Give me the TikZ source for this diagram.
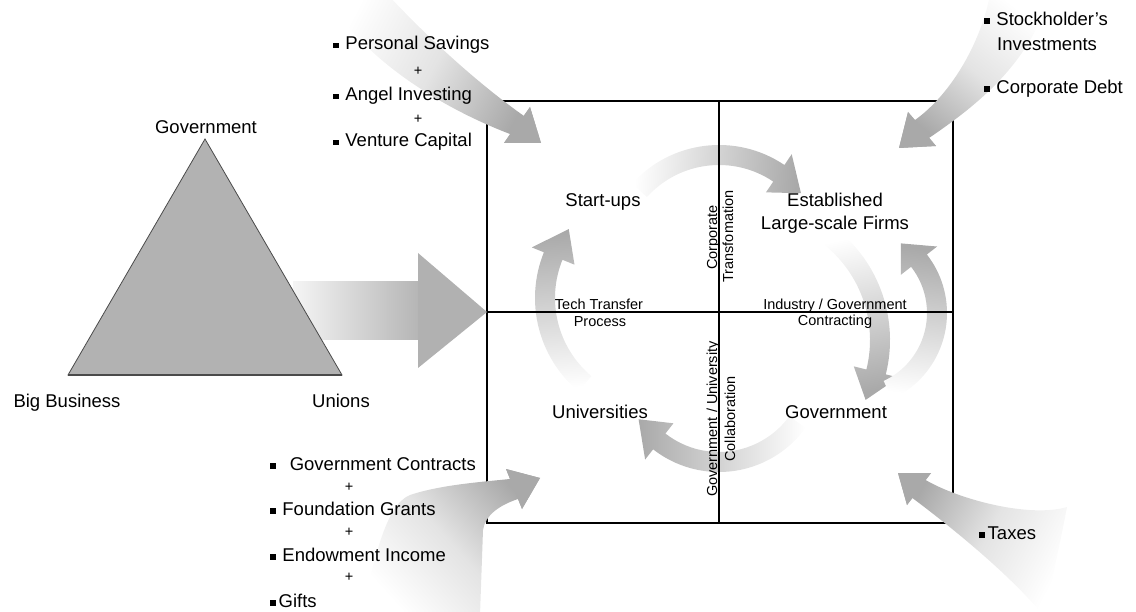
\documentclass[tikz,border=0pt]{standalone}
\usepackage{fontspec}
\setmainfont{Liberation Sans}
\definecolor{arrowgray}{HTML}{A9A9A9}
\definecolor{trigray}{HTML}{B2B2B2}
\definecolor{edgegray}{HTML}{4A4A4A}
\newcommand\bul{\rule[0.09em]{0.31em}{0.31em}}
% circular flow arrow: centre x, centre y, radius, tail angle, head base angle, tip angle, shading angle
\newcommand\cyclearrow[7]{%
  \pgfmathsetmacro\arcRo{#3+10}%
  \pgfmathsetmacro\arcRi{#3-10}%
  \pgfmathsetmacro\arcHo{#3+23}%
  \pgfmathsetmacro\arcHi{#3-23}%
  \shade[top color=arrowgray, bottom color=white, middle color=arrowgray!50, shading angle=#7]
    ([shift={(#4:\arcRo)}]#1,#2) arc[start angle=#4, end angle=#5, radius=\arcRo]
    -- ([shift={(#5:\arcHo)}]#1,#2)
    -- ([shift={(#6:#3)}]#1,#2)
    -- ([shift={(#5:\arcHi)}]#1,#2)
    -- ([shift={(#5:\arcRi)}]#1,#2)
    arc[start angle=#5, end angle=#4, radius=\arcRi] -- cycle;}
\begin{document}
\begin{tikzpicture}[x=1pt,y=-1pt,
  lbl/.style={font=\fontsize{18.5}{22}\selectfont, inner sep=0pt, anchor=base},
  lblw/.style={lbl, anchor=base west},
  smalllbl/.style={font=\fontsize{14.5}{17}\selectfont, inner sep=0pt, anchor=base},
  pluslbl/.style={font=\fontsize{14.5}{17}\selectfont, inner sep=0pt},
  boxline/.style={line width=1.1pt, black},
  swoosh/.style={top color=arrowgray, bottom color=white, middle color=arrowgray!32}]
\useasboundingbox (0,0) rectangle (1136,612);

% cycle of flows between the four sectors
\cyclearrow{719}{262}{107}{222}{304}{320}{-94}
\cyclearrow{748}{340}{132}{-52}{14}{27}{-168}
\cyclearrow{852}{313}{85}{65}{-38}{-55}{-7}
\cyclearrow{719}{365}{97}{36}{128}{146}{90}
\cyclearrow{657}{298}{112}{130}{202}{218}{4}

% quadrant frame
\draw[boxline] (487,101) rectangle (953,523);
\draw[boxline] (719,101) -- (719,523);
\draw[boxline] (487,312) -- (953,312);

% wide arrow from the triangle into the frame
\shade[left color=gray!8, right color=arrowgray!85] (293,282) rectangle (418,340);
\fill[fill=trigray, draw=edgegray, line width=0.8pt] (205,139) -- (342,375) -- (68,375) -- cycle;
\draw[edgegray, line width=2.4pt] (68,375) -- (342,375);
\fill[arrowgray!90] (418,253) -- (487,312) -- (418,368) -- cycle;

% funding arrows at the corners
\shade[swoosh, shading angle=-118]
  (388,-5) .. controls (430,40) and (480,85) .. (524,116) -- (530,107) -- (541,143)
  -- (504,143) -- (510,134) .. controls (460,115) and (370,70) .. (325,-5) -- cycle;
\fill[arrowgray] (530,107) -- (541,143) -- (504,143) -- cycle;

\shade[swoosh, shading angle=142]
  (915,120) .. controls (950,95) and (980,45) .. (990,-5) -- (1050,-5)
  .. controls (1030,60) and (985,100) .. (929,138) -- (936,146) -- (899,148)
  -- (908,112) -- cycle;
\fill[arrowgray] (936,146) -- (899,148) -- (908,112) -- cycle;

\shade[swoosh, shading angle=-48]
  (360,615) .. controls (375,560) and (385,505) .. (410,495)
  .. controls (440,485) and (480,482) .. (510,479) -- (506,469) -- (540,478)
  -- (522,509) -- (518,499) .. controls (500,505) and (485,515) .. (483,530)
  -- (480,615) -- cycle;
\fill[arrowgray] (506,469) -- (540,478) -- (522,509) -- cycle;

\shade[swoosh, shading angle=62]
  (925.6,480) .. controls (960,500) and (1030,518) .. (1067,507)
  .. controls (1060,545) and (1050,585) .. (1047,615) -- (1043,615)
  .. controls (1010,575) and (955,530) .. (912.4,498) -- (907,505) -- (898,473)
  -- (931,473) -- cycle;
\fill[arrowgray] (907,505) -- (898,473) -- (931,473) -- cycle;

% triangle corners
\node[lbl] (tgov) at (206,133.5) {Government};
\node[lbl] (tbig) at (67,407.5) {Big Business};
\node[lbl] (tuni) at (341,407.5) {Unions};

% sectors
\node[lbl] (start) at (603,207) {Start-ups};
\node[lbl] (estab1) at (835,207) {Established};
\node[lbl] (estab2) at (835,230) {Large-scale Firms};
\node[lbl] (univ) at (600,418) {Universities};
\node[lbl] (govq) at (836,418) {Government};

% flow labels
\node[smalllbl] (tt1) at (599,310) {Tech Transfer};
\node[smalllbl] (tt2) at (600,327) {Process};
\node[smalllbl] (ig1) at (835,310) {Industry / Government};
\node[smalllbl] (ig2) at (835,326) {Contracting};
\node[smalllbl, rotate=90] (ct1) at (717,237.5) {Corporate};
\node[smalllbl, rotate=90] (ct2) at (733,236.5) {Transfomation};
\node[smalllbl, rotate=90] (gu1) at (717,419) {Government / University};
\node[smalllbl, rotate=90] (gu2) at (735,419) {Collaboration};

% sources of funds
\node[lblw] (ps) at (333,50) {\bul\hspace{0.35em}Personal Savings};
\node[pluslbl] (p1) at (418,71) {+};
\node[lblw] (ai) at (333,101) {\bul\hspace{0.35em}Angel Investing};
\node[pluslbl] (p2) at (418,119) {+};
\node[lblw] (vc) at (333,147) {\bul\hspace{0.35em}Venture Capital};

\node[lblw] (sh1) at (984,25.5) {\bul\hspace{0.35em}Stockholder's};
\node[lblw] (sh2) at (997,50.5) {Investments};
\node[lblw] (cd) at (984,93.5) {\bul\hspace{0.35em}Corporate Debt};

\node[lblw] (gc) at (270,470.5) {\bul\hspace{0.75em}Government Contracts};
\node[pluslbl] (p3) at (349,487) {+};
\node[lblw] (fg) at (270,515.5) {\bul\hspace{0.35em}Foundation Grants};
\node[pluslbl] (p4) at (349,532) {+};
\node[lblw] (ei) at (270,561.5) {\bul\hspace{0.35em}Endowment Income};
\node[pluslbl] (p5) at (349,577) {+};
\node[lblw] (gi) at (270,607.5) {\bul\hspace{0.15em}Gifts};

\node[lblw] (tx) at (979,539.5) {\bul\hspace{0.15em}Taxes};
\end{tikzpicture}
\end{document}
